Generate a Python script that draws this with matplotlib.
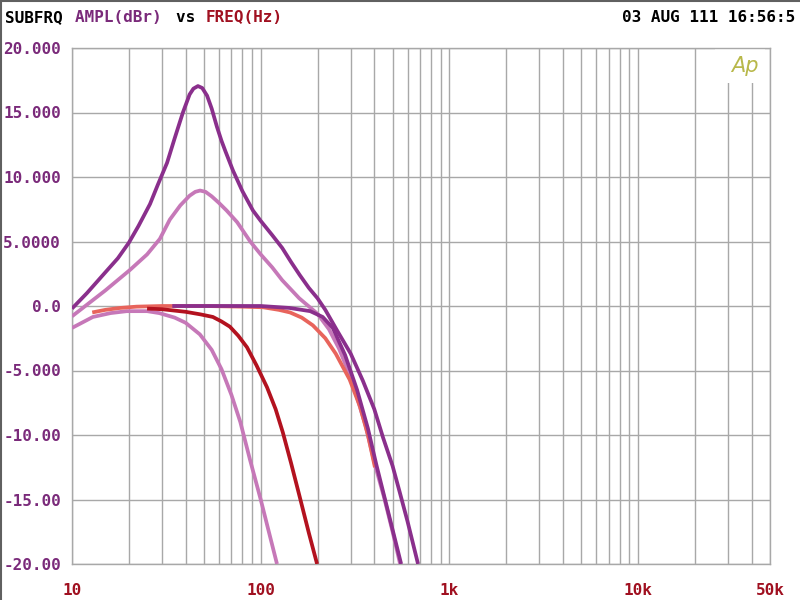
import matplotlib
matplotlib.use("Agg")
import matplotlib.pyplot as plt
from matplotlib.ticker import FixedLocator, NullFormatter, LogLocator
from matplotlib.lines import Line2D
from matplotlib.patches import Rectangle

# ---- data ----
freq_a = [10, 12, 15, 17.5, 20, 22.5, 25.9, 28.5, 31.9, 35, 38.7, 42, 44, 46.5, 49, 52, 55, 58.6, 62, 65, 71.3, 80, 91, 100, 115, 130, 145, 161, 180, 200, 220, 254, 300, 348, 400, 445, 500, 547, 600, 682]
db_a = [-0.2, 1.0, 2.6, 3.7, 4.9, 6.2, 7.9, 9.4, 11.1, 13.0, 15.0, 16.4, 16.85, 17.05, 16.9, 16.3, 15.3, 13.9, 12.8, 12.0, 10.5, 8.9, 7.4, 6.6, 5.5, 4.5, 3.4, 2.4, 1.4, 0.6, -0.3, -1.9, -3.7, -5.8, -8.0, -10.2, -12.4, -14.5, -16.7, -20]

freq_b = [10, 12, 15, 20.3, 25, 29.2, 33, 37.5, 42, 45, 47.7, 51, 55, 60, 66, 75, 88, 100, 115, 130, 160, 200, 230, 260, 290, 315, 360, 403, 450, 500, 548]
db_b = [-0.8, 0.1, 1.2, 2.8, 4.0, 5.2, 6.7, 7.8, 8.55, 8.85, 8.95, 8.85, 8.5, 8.0, 7.4, 6.5, 5.0, 4.0, 3.0, 2.0, 0.6, -0.6, -1.8, -3.3, -5.0, -6.5, -9.3, -12.3, -14.8, -17.5, -20]

freq_c = [10, 12.9, 16, 19.5, 25, 29, 35, 40, 47.6, 55, 62, 70, 78, 87.7, 100, 110, 122]
db_c = [-1.7, -0.85, -0.55, -0.4, -0.4, -0.55, -0.9, -1.3, -2.2, -3.4, -4.9, -6.9, -9.0, -11.9, -15.0, -17.4, -20]

freq_d = [25, 30, 40, 48, 55.8, 62, 68.6, 76, 84.6, 95, 108, 120, 131, 145, 161, 180, 199]
db_d = [-0.2, -0.25, -0.45, -0.65, -0.85, -1.2, -1.6, -2.3, -3.2, -4.6, -6.3, -8.0, -9.8, -12.2, -14.8, -17.6, -20]

freq_e = [12.8, 15, 18, 22, 30, 50, 80, 103, 125, 143, 165, 189, 220, 250, 272, 296, 336, 370, 403]
db_e = [-0.5, -0.3, -0.15, -0.05, 0, 0, -0.05, -0.1, -0.3, -0.5, -0.9, -1.5, -2.5, -3.7, -4.7, -5.7, -7.8, -10.0, -12.5]

freq_f = [34, 60, 100, 142, 183, 213, 241, 280, 324, 370, 410, 480, 555]
db_f = [0, 0, 0, -0.15, -0.4, -0.85, -1.7, -3.8, -6.5, -9.5, -12.3, -16.3, -20]

y_ticks = [20, 15, 10, 5, 0, -5, -10, -15, -20]
y_labels = ["20.000", "15.000", "10.000", "5.0000", "0.0", "-5.000", "-10.00", "-15.00", "-20.00"]
x_ticks = [10, 100, 1000, 10000, 50000]
x_labels = ["10", "100", "1k", "10k", "50k"]

# ---- style ----
PURPLE = "#8a2f8c"
ORCHID = "#c678b8"
DARKRED = "#b3121f"
SALMON = "#e8645c"
LBL_PURPLE = "#7a2a7a"
LBL_RED = "#a01020"
GRID = "#a8a8a8"
FONT = "DejaVu Sans Mono"

fig = plt.figure(figsize=(8, 6), dpi=100)
ax = fig.add_axes([72 / 800, 1 - 564 / 600, (770 - 72) / 800, (564 - 48) / 600])

lw = 2.7
kw = dict(lw=lw, solid_capstyle="butt", solid_joinstyle="round")
ax.plot(freq_c, db_c, color=ORCHID, zorder=3, **kw)
ax.plot(freq_b, db_b, color=ORCHID, zorder=3, **kw)
ax.plot(freq_e, db_e, color=SALMON, zorder=4, **kw)
ax.plot(freq_d, db_d, color=DARKRED, zorder=5, **kw)
ax.plot(freq_f, db_f, color=PURPLE, zorder=5, **kw)
ax.plot(freq_a, db_a, color=PURPLE, zorder=6, **kw)

ax.set_xscale("log")
ax.set_xlim(10, 50000)
ax.set_ylim(-20, 20)

ax.xaxis.set_major_locator(FixedLocator(x_ticks))
ax.set_xticklabels(x_labels)
ax.xaxis.set_minor_locator(LogLocator(base=10, subs=[2, 3, 4, 5, 6, 7, 8, 9]))
ax.xaxis.set_minor_formatter(NullFormatter())
ax.set_yticks(y_ticks)
ax.set_yticklabels(y_labels)

ax.grid(True, which="both", axis="x", color=GRID, lw=1.0)
ax.grid(True, which="major", axis="y", color=GRID, lw=1.0)
ax.set_axisbelow(True)
ax.tick_params(which="both", length=0)
ax.tick_params(axis="y", pad=8, labelsize=11.5, labelcolor=LBL_PURPLE)
ax.tick_params(axis="x", pad=14, labelsize=11.5, labelcolor=LBL_RED)
for lab in ax.get_xticklabels() + ax.get_yticklabels():
    lab.set_fontfamily(FONT)
    lab.set_fontweight("bold")
for s in ax.spines.values():
    s.set_color(GRID)
    s.set_linewidth(1.0)

# white patch behind the Ap logo, interrupting the grid
ax.add_patch(Rectangle((0.921, 0.932), 0.072, 0.068, transform=ax.transAxes,
                       facecolor="white", edgecolor="none", zorder=1))
ax.text(0.964, 0.985, "Ap", transform=ax.transAxes, ha="center", va="top",
        fontsize=15, style="italic", color="#b8b84a", family="DejaVu Sans", zorder=7)

# title pieces
y_t = 1 - 18 / 600
parts = [("SUBFRQ ", "black"), ("AMPL(dBr) ", LBL_PURPLE), ("vs ", "black"), ("FREQ(Hz)", LBL_RED)]
x0 = 5 / 800
char_w = 10.05 / 800
for txt, col in parts:
    fig.text(x0, y_t, txt, color=col, fontsize=11.5, family=FONT, fontweight="bold", va="center", ha="left")
    x0 += len(txt) * char_w
fig.text(795 / 800, y_t, "03 AUG 111 16:56:5", color="black", fontsize=11.5, family=FONT,
         fontweight="bold", va="center", ha="right")

# figure border (left and top)
fig.add_artist(Line2D([0.0015, 0.0015], [0, 1], transform=fig.transFigure, color="#606060", lw=1.5))
fig.add_artist(Line2D([0, 1], [0.9985, 0.9985], transform=fig.transFigure, color="#606060", lw=1.5))

fig.savefig("out.png", dpi=100, facecolor="white")
